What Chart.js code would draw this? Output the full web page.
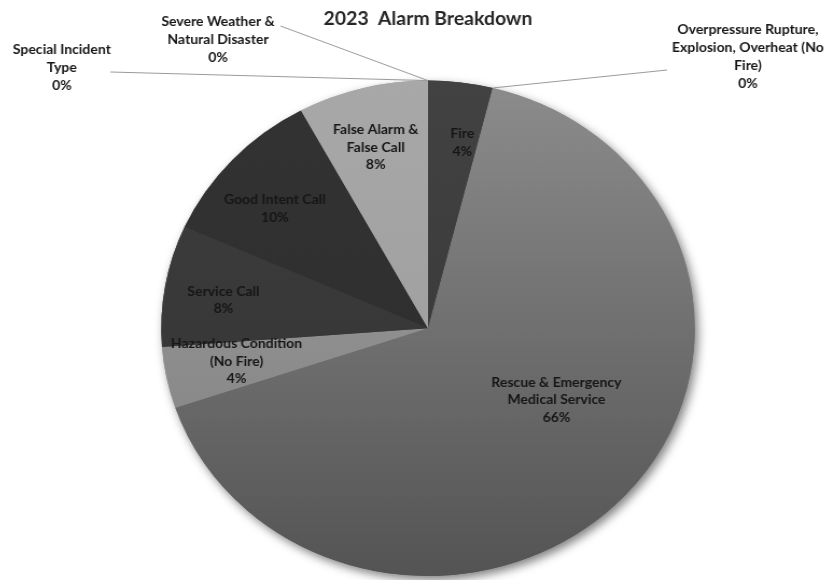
<!DOCTYPE html>
<html>
<head>
<meta charset="utf-8">
<script src="https://cdn.jsdelivr.net/npm/chart.js@4/dist/chart.umd.min.js"></script>
<style>
html,body{margin:0;padding:0;background:#fff;overflow:hidden;width:838px;height:580px;}
#c{display:block;width:838px;height:580px;transform:scaleX(1.077);transform-origin:428px 0;}
</style>
</head>
<body>
<canvas id="c" width="838" height="580"></canvas>
<script>
// ---- data ----
const categories = [
  'Fire',
  'Overpressure Rupture, Explosion, Overheat (No Fire)',
  'Rescue & Emergency Medical Service',
  'Hazardous Condition (No Fire)',
  'Service Call',
  'Good Intent Call',
  'False Alarm & False Call',
  'Severe Weather & Natural Disaster',
  'Special Incident Type'
];
const shares = [3.9, 0, 65.9, 4.0, 7.9, 10.4, 7.9, 0, 0];
const labelLines = [
  ['Fire'],
  ['Overpressure Rupture,', 'Explosion, Overheat (No', 'Fire)'],
  ['Rescue & Emergency', 'Medical Service'],
  ['Hazardous Condition', '(No Fire)'],
  ['Service Call'],
  ['Good Intent Call'],
  ['False Alarm &', 'False Call'],
  ['Severe Weather &', 'Natural Disaster'],
  ['Special Incident', 'Type']
];
const chartTitle = '2023  Alarm Breakdown';

// ---- styles ----
const topColors    = ['#424242', '#888888', '#8c8c8c', '#a0a0a0', '#3e3e3e', '#333333', '#a8a8a8', '#888888', '#888888'];
const bottomColors = ['#363636', '#888888', '#545454', '#7e7e7e', '#333333', '#2c2c2c', '#9a9a9a', '#888888', '#888888'];
const labelStyle = [
  {r: 0.76, shift: 2.7},
  {callout: true, x: 725, y: 57, lx: 650, ly: 70},
  {r: 0.562, shift: -11.6},
  {r: 0.73, shift: 1.0},
  {r: 0.775, shift: -1.5},
  {r: 0.75, shift: -2.8},
  {r: 0.756, shift: -0.8},
  {callout: true, x: 233, y: 40, lx: 291, ly: 26},
  {callout: true, x: 88, y: 68, lx: 133, ly: 72}
];

function sliceFill(ctx) {
  const chart = ctx.chart;
  const i = ctx.dataIndex;
  const area = chart.chartArea;
  if (!area) return topColors[i];
  const g = chart.ctx.createLinearGradient(0, area.top, 0, area.bottom);
  g.addColorStop(0, topColors[i]);
  g.addColorStop(1, bottomColors[i]);
  return g;
}

const shadowPlugin = {
  id: 'pieShadow',
  beforeDatasetsDraw(chart) {
    const ctx = chart.ctx;
    const meta = chart.getDatasetMeta(0);
    ctx.save();
    ctx.shadowColor = 'rgba(0,0,0,0.5)';
    ctx.shadowBlur = 10;
    ctx.shadowOffsetX = 3;
    ctx.shadowOffsetY = 4;
    meta.data.forEach(a => a.draw(ctx));
    ctx.restore();
  }
};

const labelPlugin = {
  id: 'sliceLabels',
  afterDatasetsDraw(chart) {
    const ctx = chart.ctx;
    const meta = chart.getDatasetMeta(0);
    const data = chart.data.datasets[0].data;
    const total = data.reduce((a, b) => a + b, 0);
    ctx.save();
    ctx.font = 'bold 13px Lato';
    ctx.fillStyle = '#161616';
    ctx.textAlign = 'center';
    ctx.textBaseline = 'middle';
    meta.data.forEach((arc, i) => {
      const st = labelStyle[i];
      const lines = labelLines[i].concat([Math.round(data[i] / total * 100) + '%']);
      let cx, cy, lh;
      if (st.callout) {
        const ang = arc.endAngle;
        const ex = arc.x + Math.cos(ang) * arc.outerRadius;
        const ey = arc.y + Math.sin(ang) * arc.outerRadius;
        ctx.save();
        ctx.strokeStyle = '#9a9a9a';
        ctx.lineWidth = 1;
        ctx.beginPath();
        ctx.moveTo(ex, ey);
        ctx.lineTo(st.lx, st.ly);
        ctx.stroke();
        ctx.restore();
        cx = st.x; cy = st.y; lh = 18;
      } else {
        const mid = (arc.startAngle + arc.endAngle) / 2 + st.shift * Math.PI / 180;
        const r = arc.outerRadius * st.r;
        cx = arc.x + Math.cos(mid) * r;
        cy = arc.y + Math.sin(mid) * r;
        lh = 17.5;
      }
      const y0 = cy - (lines.length - 1) * lh / 2;
      lines.forEach((t, k) => ctx.fillText(t, cx, y0 + k * lh));
    });
    ctx.restore();
  }
};

new Chart(document.getElementById('c'), {
  type: 'pie',
  data: {
    labels: categories,
    datasets: [{
      data: shares,
      backgroundColor: sliceFill,
      borderWidth: 0
    }]
  },
  options: {
    responsive: false,
    animation: false,
    events: [],
    layout: {padding: {left: 100, right: 82, top: 0, bottom: 4}},
    plugins: {
      legend: {display: false},
      tooltip: {enabled: false},
      title: {
        display: true,
        text: chartTitle,
        color: '#262626',
        font: {family: 'Lato', size: 18, weight: 'bold'},
        padding: {top: 8, bottom: 51}
      }
    }
  },
  plugins: [shadowPlugin, labelPlugin]
});
</script>
</body>
</html>
